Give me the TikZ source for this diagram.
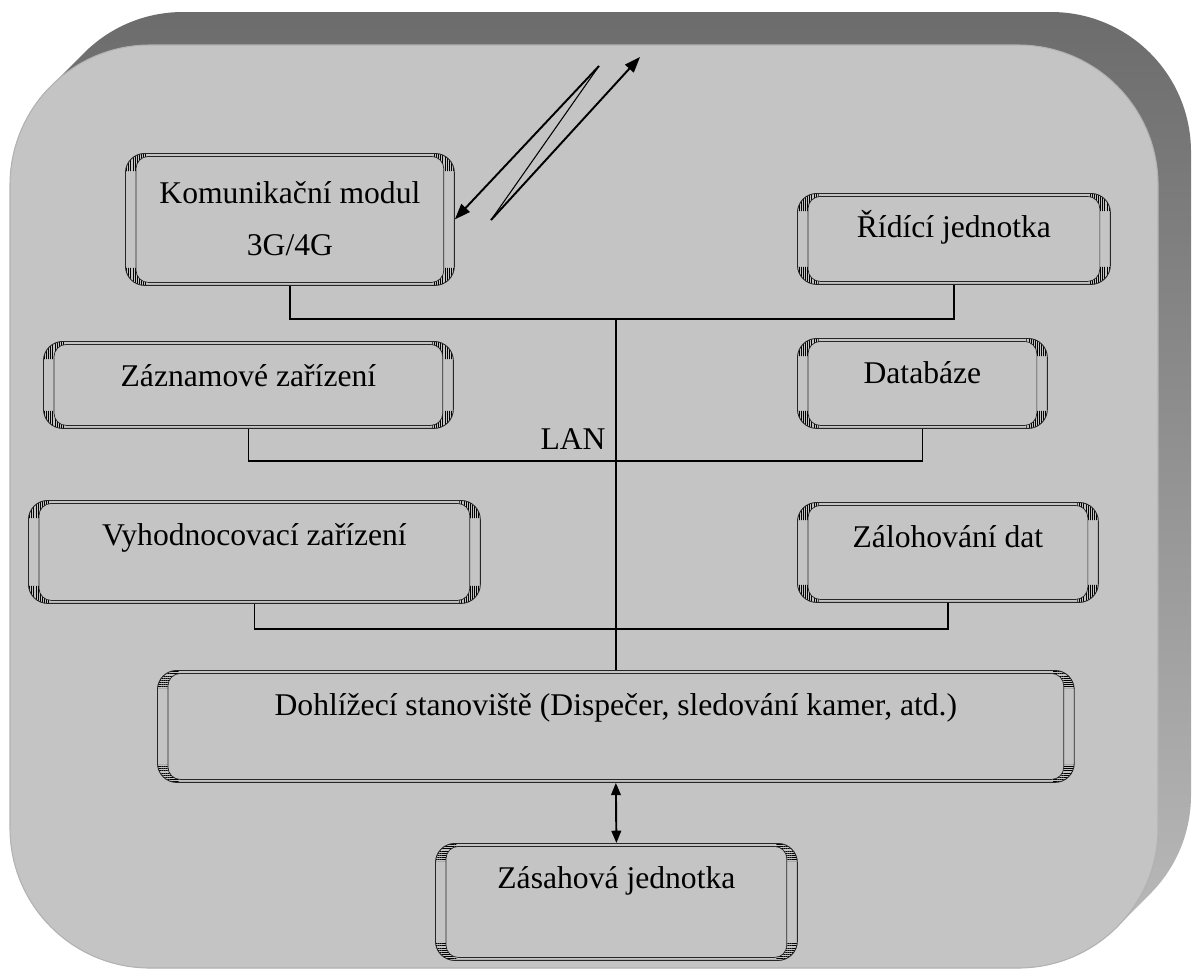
\documentclass[tikz,border=0pt]{standalone}
\usepackage{fontspec}
\setmainfont{Liberation Serif}
\usepackage{tikz}
\usetikzlibrary{arrows.meta,positioning,patterns.meta}
\definecolor{facegray}{RGB}{196,196,196}
\definecolor{rimdark}{RGB}{108,108,108}
\definecolor{rimlight}{RGB}{188,188,188}
\definecolor{edgegray}{RGB}{178,178,178}

\tikzset{hatch angle/.store in=\hatchangle, hatch angle=90}

\begin{document}
\begin{tikzpicture}[
  x=0.02cm, y=-0.02cm,
  font=\fontsize{18}{30}\selectfont,
  bevel/.style={draw=black!85, line width=0.5pt, rounded corners=11pt, inner sep=0pt, anchor=north west,
    path picture={
      \begin{scope}
        \clip[sharp corners] (path picture bounding box.north west) rectangle +(12pt,-10pt)
              (path picture bounding box.north east) rectangle +(-12pt,-10pt)
              (path picture bounding box.south west) rectangle +(12pt,10pt)
              (path picture bounding box.south east) rectangle +(-12pt,10pt);
        \fill[pattern={Lines[angle=\hatchangle,distance=1.2pt,line width=0.35pt]}, even odd rule]
          (path picture bounding box.north west) rectangle (path picture bounding box.south east)
          [rounded corners=7pt] ([shift={(6pt,-1.7pt)}]path picture bounding box.north west) rectangle ([shift={(-6pt,1.7pt)}]path picture bounding box.south east);
      \end{scope}
      \draw[line width=0.4pt, rounded corners=7pt] ([shift={(6pt,-1.7pt)}]path picture bounding box.north west) rectangle ([shift={(-6pt,1.7pt)}]path picture bounding box.south east);
    }},
  boxtext/.style={anchor=base, inner sep=0pt, align=center},
  bus/.style={line width=1pt},
  arrow/.style={line width=1.1pt, -{Triangle[length=9pt,width=6.5pt]}},
  dblarrow/.style={line width=1.1pt, {Triangle[length=7pt,width=5.5pt]}-{Triangle[length=7pt,width=5.5pt]}}
]
  \useasboundingbox (0,0) rectangle (1192,971);

  % extruded rim and front face
  \shade[top color=rimdark, bottom color=rimlight, rounded corners=2.8cm]
    \foreach \k in {0,1,...,33} { (10+\k,45-\k) rectangle (1158+\k,968-\k) };
  \fill[facegray, draw=edgegray, line width=0.6pt, rounded corners=2.8cm] (10,45) rectangle (1158,968);

  % boxes
  \node[bevel, minimum width=6.58cm, minimum height=2.64cm] (kom) at (125,153) {};
  \node[bevel, minimum width=6.26cm, minimum height=1.82cm] (ridi) at (797,193) {};
  \node[bevel, minimum width=8.2cm, minimum height=1.74cm] (zazn) at (43,341) {};
  \node[bevel, minimum width=5.0cm, minimum height=1.8cm] (datab) at (797,338) {};
  \node[bevel, minimum width=9.04cm, minimum height=2.06cm] (vyhod) at (28,500) {};
  \node[bevel, minimum width=6.02cm, minimum height=2.0cm] (zaloh) at (797,502) {};
  \node[bevel, hatch angle=0, minimum width=18.34cm, minimum height=2.24cm] (dohl) at (157,670) {};
  \node[bevel, hatch angle=0, minimum width=7.24cm, minimum height=2.34cm] (zasah) at (435,843) {};

  % texts (base = last line)
  \node[boxtext] (komT) at ([yshift=-2.06cm]kom.north) {Komunikační modul\\3G/4G};
  \node[boxtext] (ridiT) at ([yshift=-0.9cm]ridi.north) {Řídící jednotka};
  \node[boxtext] (zaznT) at ([yshift=-0.9cm]zazn.north) {Záznamové zařízení};
  \node[boxtext] (databT) at ([yshift=-0.9cm]datab.north) {Databáze};
  \node[boxtext] (vyhodT) at ([yshift=-0.9cm]vyhod.north) {Vyhodnocovací zařízení};
  \node[boxtext] (zalohT) at ([yshift=-0.9cm]zaloh.north) {Zálohování dat};
  \node[boxtext] (dohlT) at ([yshift=-0.9cm]dohl.north) {Dohlížecí stanoviště (Dispečer, sledování kamer, atd.)};
  \node[boxtext] (zasahT) at ([yshift=-0.9cm]zasah.north) {Zásahová jednotka};

  % LAN
  \draw[bus] (kom.south) -- ++(0,33) -| (ridi.south);
  \draw[bus] (zazn.south) -- ++(0,32) -| (datab.south);
  \draw[bus] (vyhod.south) -- ++(0,25) -| (zaloh.south);
  \draw[bus] (dohl.north) -- ++(0,-352);
  \node[boxtext] (lan) at (573,449) {LAN};

  % radio link
  \coordinate (ltop) at (599,66);
  \coordinate (lbot) at (491,220);
  \coordinate (lend) at (640,57);
  \draw[arrow] (ltop) -- (kom.east);
  \draw[line width=0.6pt] (ltop) -- (lbot);
  \draw[arrow] (lbot) -- (lend);

  \draw[dblarrow] (dohl.south) -- (zasah.north);
\end{tikzpicture}
\end{document}
